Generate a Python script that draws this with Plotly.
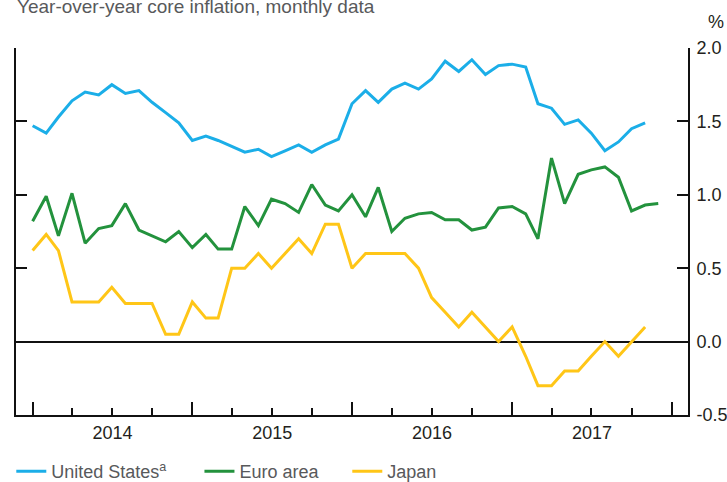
import pandas as pd
import plotly.graph_objects as go

# monthly observations, first one is January 2014
months = pd.date_range("2014-01-01", periods=48, freq="MS")

united_states = [
    1.47, 1.42, 1.53, 1.64, 1.70, 1.68, 1.75, 1.69, 1.71, 1.63, 1.56, 1.49,
    1.37, 1.40, 1.37, 1.33, 1.29, 1.31, 1.26, 1.30, 1.34, 1.29, 1.34, 1.38,
    1.62, 1.71, 1.63, 1.72, 1.76, 1.72, 1.79, 1.91, 1.84, 1.92, 1.82, 1.88,
    1.89, 1.87, 1.62, 1.59, 1.48, 1.51, 1.42, 1.30, 1.36, 1.45, 1.49,
]
euro_area = [
    0.82, 0.99, 0.72, 1.01, 0.67, 0.77, 0.79, 0.94, 0.76, 0.72, 0.68, 0.75,
    0.64, 0.73, 0.63, 0.63, 0.92, 0.79, 0.97, 0.94, 0.88, 1.07, 0.93, 0.89,
    1.00, 0.85, 1.05, 0.75, 0.84, 0.87, 0.88, 0.83, 0.83, 0.76, 0.78, 0.91,
    0.92, 0.87, 0.70, 1.25, 0.94, 1.14, 1.17, 1.19, 1.12, 0.89, 0.93, 0.94,
]
japan = [
    0.62, 0.73, 0.62, 0.27, 0.27, 0.27, 0.37, 0.26, 0.26, 0.26, 0.05, 0.05,
    0.27, 0.16, 0.16, 0.50, 0.50, 0.60, 0.50, 0.60, 0.70, 0.60, 0.80, 0.80,
    0.50, 0.60, 0.60, 0.60, 0.60, 0.50, 0.30, 0.20, 0.10, 0.20, 0.10, 0.00,
    0.10, -0.10, -0.30, -0.30, -0.20, -0.20, -0.10, 0.00, -0.10, 0.00, 0.10,
]

y_ticks = [-0.5, 0.0, 0.5, 1.0, 1.5, 2.0]
y_tick_labels = ["-0.5", "0.0", "0.5", "1.0", "1.5", "2.0"]

series = [
    ("United States<sup>a</sup>", united_states, "#1BAEE8", "legend"),
    ("Euro area", euro_area, "#23923D", "legend2"),
    ("Japan", japan, "#FFC617", "legend3"),
]

FONT = "Liberation Sans, Arial, Helvetica, sans-serif"
GREY = "#58595B"

fig = go.Figure()
for name, vals, color, leg in series:
    fig.add_trace(go.Scatter(
        x=months[:len(vals)], y=vals, name=name, mode="lines",
        line=dict(color=color, width=3), legend=leg, showlegend=True,
    ))

legend_style = dict(orientation="h", yanchor="middle", y=-0.154, xanchor="left",
                    font=dict(family=FONT, size=18, color=GREY),
                    bgcolor="rgba(0,0,0,0)", itemwidth=30)

fig.update_layout(
    width=727, height=482,
    margin=dict(l=16, r=39, t=47.5, b=67, autoexpand=False),
    plot_bgcolor="white", paper_bgcolor="white",
    showlegend=True,
    font=dict(family=FONT, size=18, color="#231F20"),
    legend=dict(legend_style, x=-0.007),
    legend2=dict(legend_style, x=0.273),
    legend3=dict(legend_style, x=0.493),
    xaxis=dict(
        type="date", range=["2013-11-24", "2018-02-07"],
        tickmode="linear", tick0="2014-01-01", dtick="M12",
        tickformat="%Y", ticklabelmode="period",
        ticks="inside", ticklen=13, tickwidth=2, tickcolor="#111",
        showline=True, linewidth=2, linecolor="#111",
        showgrid=False, zeroline=False, automargin=False,
        minor=dict(tick0="2014-01-01", dtick="M3", ticks="inside",
                   ticklen=7, tickwidth=2, tickcolor="#111", showgrid=False),
        ticklabelstandoff=0,
    ),
    yaxis=dict(
        side="right", range=[-0.5, 2.0],
        tickmode="array", tickvals=y_ticks, ticktext=y_tick_labels,
        ticks="inside", ticklen=11, tickwidth=2, tickcolor="#111",
        showline=True, linewidth=2, linecolor="#111", mirror="ticks",
        showgrid=False, zeroline=True, zerolinecolor="#111", zerolinewidth=2,
        automargin=False, ticklabelstandoff=3,
    ),
    annotations=[
        dict(text="Year-over-year core inflation, monthly data", xref="paper", yref="paper",
             x=-0.002, y=1.114, xanchor="left", yanchor="middle", showarrow=False,
             font=dict(family=FONT, size=19, color=GREY)),
        dict(text="%", xref="paper", yref="paper", x=1.0417, y=1.072,
             xanchor="center", yanchor="middle", showarrow=False,
             font=dict(family=FONT, size=18, color="#231F20")),
    ],
)

# drop the browser's default 8px body margin so the figure fills the window
fig.write_html("out.html", config={"displayModeBar": False},
               post_script="document.body.style.margin='0';")
